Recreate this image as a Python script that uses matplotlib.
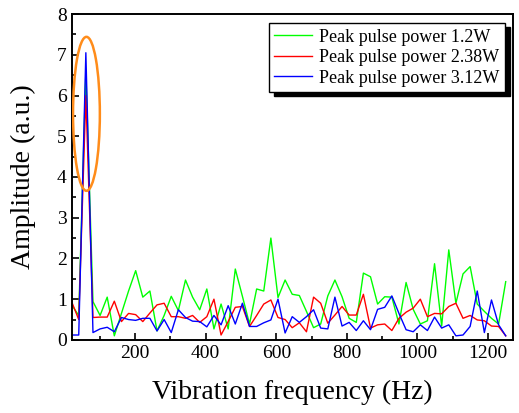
import matplotlib
matplotlib.use('Agg')
import matplotlib.pyplot as plt
import numpy as np
from matplotlib.patches import Ellipse
from matplotlib.ticker import MultipleLocator

# frequency bins (Hz)
freq = np.linspace(20, 1250, 62)

amp_12 = [0.86, 0.6, 6.6, 0.94, 0.6, 1.05, 0.1, 0.65, 1.2, 1.7,
          1.05, 1.2, 0.22, 0.6, 1.07, 0.72, 1.47, 1.05, 0.74, 1.25,
          0.27, 0.88, 0.27, 1.74, 1.07, 0.39, 1.25, 1.2, 2.5, 1.04,
          1.47, 1.12, 1.09, 0.7, 0.3, 0.39, 1.08, 1.47, 1.06, 0.53,
          0.43, 1.64, 1.55, 0.88, 1.06, 1.05, 0.39, 1.41, 0.75, 0.39,
          0.47, 1.87, 0.34, 2.21, 0.9, 1.62, 1.8, 0.88, 0.7, 0.53,
          0.39, 1.43]
amp_238 = [0.94, 0.5, 6.0, 0.55, 0.56, 0.56, 0.95, 0.45, 0.65, 0.62,
           0.45, 0.66, 0.86, 0.9, 0.57, 0.57, 0.53, 0.6, 0.43, 0.57,
           1.0, 0.12, 0.45, 0.8, 0.82, 0.33, 0.6, 0.88, 0.98, 0.55,
           0.5, 0.3, 0.42, 0.2, 1.05, 0.9, 0.41, 0.61, 0.82, 0.61,
           0.61, 1.12, 0.29, 0.37, 0.39, 0.23, 0.53, 0.68, 0.78, 1.0,
           0.57, 0.65, 0.64, 0.82, 0.9, 0.53, 0.6, 0.49, 0.47, 0.34,
           0.33, 0.1]
amp_312 = [0.12, 0.12, 7.05, 0.18, 0.27, 0.31, 0.2, 0.55, 0.5, 0.48,
           0.53, 0.53, 0.22, 0.5, 0.18, 0.74, 0.55, 0.46, 0.45, 0.32,
           0.6, 0.37, 0.84, 0.39, 0.9, 0.33, 0.33, 0.42, 0.49, 1.0,
           0.17, 0.57, 0.43, 0.57, 0.74, 0.29, 0.27, 1.05, 0.34, 0.43,
           0.23, 0.47, 0.25, 0.75, 0.8, 1.08, 0.65, 0.25, 0.2, 0.37,
           0.23, 0.56, 0.29, 0.37, 0.1, 0.12, 0.33, 1.2, 0.18, 0.98,
           0.37, 0.1]
labels = ['Peak pulse power 1.2W', 'Peak pulse power 2.38W', 'Peak pulse power 3.12W']

plt.rcParams['font.family'] = ['Liberation Serif', 'DejaVu Serif']

fig = plt.figure(figsize=(5.19, 4.13), dpi=100)
ax = fig.add_axes([0.138, 0.177, 0.85, 0.789])

ax.plot(freq, amp_12, color='#00ff00', lw=1.0, label=labels[0])
ax.plot(freq, amp_238, color='#ff0000', lw=1.0, label=labels[1])
ax.plot(freq, amp_312, color='#0000ff', lw=1.0, label=labels[2])

# highlight the main peak
ax.add_patch(Ellipse((62, 5.55), 76, 3.78, fill=False, edgecolor='#ff8c1a', lw=1.8,
                     zorder=5))

ax.set_xlim(20, 1270)
ax.set_ylim(0, 8)
ax.xaxis.set_major_locator(MultipleLocator(200))
ax.xaxis.set_minor_locator(MultipleLocator(100))
ax.yaxis.set_major_locator(MultipleLocator(1))
ax.yaxis.set_minor_locator(MultipleLocator(0.5))
ax.tick_params(which='both', direction='in', labelsize=14, width=1.2)
ax.tick_params(which='major', length=5)
ax.tick_params(which='minor', length=3)
for s in ax.spines.values():
    s.set_linewidth(1.4)

ax.set_xlabel('Vibration frequency (Hz)', fontsize=20, labelpad=13)
ax.set_ylabel('Amplitude (a.u.)', fontsize=20, labelpad=15)

leg = ax.legend(loc='upper right', fontsize=13, fancybox=False,
                shadow={'color': 'black', 'alpha': 1, 'ox': 3.5, 'oy': -3},
                edgecolor='black', framealpha=1, handlelength=2.1,
                borderpad=0.3, labelspacing=0.2, handletextpad=0.4,
                borderaxespad=0, bbox_to_anchor=(0.983, 0.972))
leg.get_frame().set_linewidth(1.0)

plt.savefig('out.png', dpi=100)
plt.close()
